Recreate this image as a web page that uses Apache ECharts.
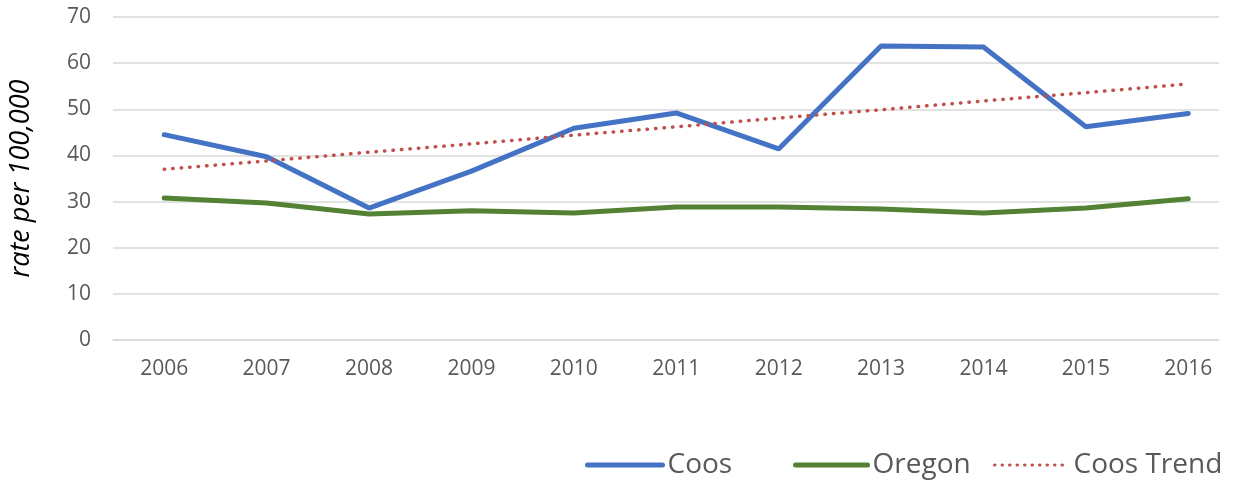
<!DOCTYPE html>
<html>
<head>
<meta charset="utf-8">
<script src="https://cdn.jsdelivr.net/npm/echarts@6/dist/echarts.min.js"></script>
<style>html,body{margin:0;padding:0;background:#fff}#c{width:1236px;height:483px}</style>
</head>
<body>
<div id="c"></div>
<script>
var years = [2006, 2007, 2008, 2009, 2010, 2011, 2012, 2013, 2014, 2015, 2016];
var coos = [44.5, 39.7, 28.6, 36.6, 45.9, 49.2, 41.4, 63.7, 63.5, 46.2, 49.1];
var oregon = [30.8, 29.7, 27.3, 28.0, 27.5, 28.8, 28.8, 28.4, 27.5, 28.6, 30.6];
var coosTrend = [37.0, 38.8, 40.7, 42.5, 44.4, 46.2, 48.1, 49.9, 51.8, 53.6, 55.5];
var yTicks = [0, 10, 20, 30, 40, 50, 60, 70];

function pairs(vals) { return years.map(function (y, i) { return [y, vals[i]]; }); }

var chart = echarts.init(document.getElementById('c'));
var FONT = '"Open Sans", sans-serif';
var legendText = { fontFamily: FONT, fontSize: 28, color: '#595959' };
function lg(name, left, w, lw, dash) {
  return { data: [name], left: left, itemWidth: w, top: 446, itemHeight: 20, itemGap: 0,
    textStyle: legendText, itemStyle: { opacity: 0 },
    lineStyle: { width: lw, type: dash, cap: 'round' } };
}
chart.setOption({
  animation: false,
  backgroundColor: '#fff',
  grid: { left: 111, right: 17, top: 17, bottom: 143 },
  xAxis: {
    type: 'value',
    min: 2005.5, max: 2016.3, interval: 0.5,
    axisLine: { show: true, lineStyle: { color: '#d9d9d9', width: 1.5 } },
    axisTick: { show: false },
    splitLine: { show: false },
    axisLabel: {
      showMaxLabel: false, showMinLabel: false,
      margin: 19, fontFamily: FONT, fontSize: 21, color: '#595959',
      formatter: function (v) { return Math.abs(v - Math.round(v)) < 1e-6 ? String(Math.round(v)) : ''; }
    }
  },
  yAxis: {
    type: 'value',
    min: yTicks[0], max: yTicks[yTicks.length - 1], interval: 10,
    name: 'rate per 100,000',
    nameLocation: 'middle', nameGap: 78, nameRotate: 90,
    nameTextStyle: { fontFamily: FONT, fontSize: 27, fontStyle: 'italic', color: '#000' },
    axisLine: { show: false }, axisTick: { show: false },
    splitLine: { lineStyle: { color: '#d9d9d9', width: 1.5 } },
    axisLabel: { margin: 22, fontFamily: FONT, fontSize: 21, color: '#595959' }
  },
  legend: [
    lg('Coos', 580, 75, 5, 'solid'),
    lg('Oregon', 788, 72, 5, 'solid'),
    lg('Coos Trend', 988, 74, 3, [0.5, 7])
  ],
  series: [
    { name: 'Coos', type: 'line', data: pairs(coos), symbol: 'none', color: '#4472C4',
      lineStyle: { width: 5, color: '#4472C4', cap: 'round' } },
    { name: 'Oregon', type: 'line', data: pairs(oregon), symbol: 'none', color: '#548235',
      lineStyle: { width: 5, color: '#548235', cap: 'round' } },
    { name: 'Coos Trend', type: 'line', data: pairs(coosTrend), symbol: 'none', color: '#C0504D',
      lineStyle: { width: 3.5, color: '#C0504D', type: [0.5, 8], cap: 'round' } }
  ]
});
</script>
</body>
</html>
